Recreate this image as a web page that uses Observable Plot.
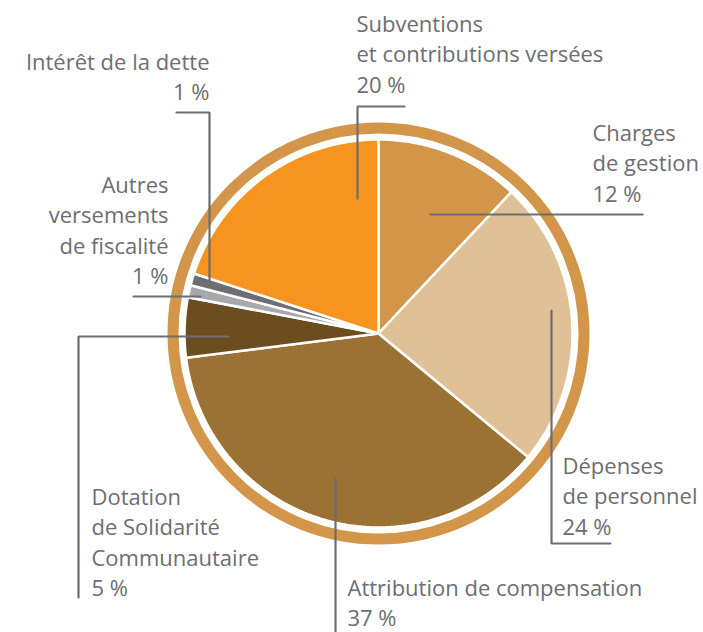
<!DOCTYPE html>
<html>
<head>
<meta charset="utf-8">
<script src="https://cdn.jsdelivr.net/npm/d3@7"></script>
<script src="https://cdn.jsdelivr.net/npm/@observablehq/plot@0.6"></script>
<style>
  html, body { margin: 0; padding: 0; background: #fff; }
  #chart svg { display: block; }
</style>
</head>
<body>
<div id="chart"></div>
<script>
// ---- Data ----
const categories = [
  "Charges de gestion",
  "Dépenses de personnel",
  "Attribution de compensation",
  "Dotation de Solidarité Communautaire",
  "Autres versements de fiscalité",
  "Intérêt de la dette",
  "Subventions et contributions versées"
];
const values = [12, 24, 37, 5, 1, 1, 20];
const labelLines = [
  ["Charges", "de gestion"],
  ["Dépenses", "de personnel"],
  ["Attribution de compensation"],
  ["Dotation", "de Solidarité", "Communautaire"],
  ["Autres", "versements", "de fiscalité"],
  ["Intérêt de la dette"],
  ["Subventions", "et contributions versées"]
];

// ---- Styles ----
const colors = ["#D29549", "#E0C197", "#9C7134", "#6C4D1F", "#A7A9AC", "#6D6E71", "#F6941F"];
const ringColor = "#D29549";
const inkColor = "#6D6E71";

// ---- Layout (pixels) ----
const W = 703, H = 632;
const cx = 378, cy = 333, pieR = 194, ringR = 205.5, ringW = 11;
const layout = [
  {x: 592, y: 119, anchor: "start", leader: [[430, 214], [642, 214]]},
  {x: 562, y: 452, anchor: "start", leader: [[551, 310], [551, 543], [610, 543]]},
  {x: 347, y: 574, anchor: "start", leader: [[335, 478], [335, 640]]},
  {x: 91,  y: 483, anchor: "start", leader: [[228, 336], [78, 336], [78, 597]]},
  {x: 168, y: 171, anchor: "end",   leader: [[200, 296], [133, 296]]},
  {x: 209, y: 48,  anchor: "end",   leader: [[209, 280], [209, 112], [176, 112]]},
  {x: 356, y: 10,  anchor: "start", leader: [[357, 198], [357, 106], [404, 106]]}
];

// ---- Build slice polygons ----
const total = d3.sum(values);
const slicePts = [];
let acc = 0;
values.forEach((v, i) => {
  const a0 = acc / total * 2 * Math.PI;
  acc += v;
  const a1 = acc / total * 2 * Math.PI;
  slicePts.push({k: i, x: cx, y: cy});
  const n = Math.max(2, Math.ceil((a1 - a0) / (Math.PI / 360)));
  for (let j = 0; j <= n; j++) {
    const a = a0 + (a1 - a0) * j / n;
    slicePts.push({k: i, x: cx + pieR * Math.sin(a), y: cy - pieR * Math.cos(a)});
  }
  slicePts.push({k: i, x: cx, y: cy});
});

const leaderPts = [];
layout.forEach((l, i) => l.leader.forEach(([x, y]) => leaderPts.push({k: i, x, y})));

const labels = categories.map((c, i) => ({
  k: i,
  text: [...labelLines[i], values[i] + " %"].join("\n"),
  x: layout[i].x, y: layout[i].y, anchor: layout[i].anchor
}));

const font = "'Open Sans', sans-serif";

const plot = Plot.plot({
  width: W, height: H, margin: 0,
  style: {fontFamily: font, background: "#fff"},
  x: {domain: [0, W], range: [0, W], axis: null},
  y: {domain: [0, H], range: [0, H], axis: null},
  r: {type: "identity"},
  color: {type: "ordinal", domain: d3.range(categories.length), range: colors},
  marks: [
    Plot.dot([{x: cx, y: cy}], {x: "x", y: "y", r: ringR, fill: "none", stroke: ringColor, strokeWidth: ringW}),
    Plot.line(slicePts, {x: "x", y: "y", z: "k", fill: d => d.k, stroke: "#fff", strokeWidth: 2.5, strokeLinejoin: "round"}),
    Plot.line(leaderPts, {x: "x", y: "y", z: "k", stroke: inkColor, strokeWidth: 2.2, strokeLinejoin: "miter"}),
    Plot.text(labels.filter(d => d.anchor === "start"), {x: "x", y: "y", text: "text", textAnchor: "start", lineAnchor: "top", lineHeight: 1.38, fontSize: 22, fill: inkColor}),
    Plot.text(labels.filter(d => d.anchor === "end"), {x: "x", y: "y", text: "text", textAnchor: "end", lineAnchor: "top", lineHeight: 1.38, fontSize: 22, fill: inkColor})
  ]
});
document.getElementById("chart").appendChild(plot);
</script>
</body>
</html>
